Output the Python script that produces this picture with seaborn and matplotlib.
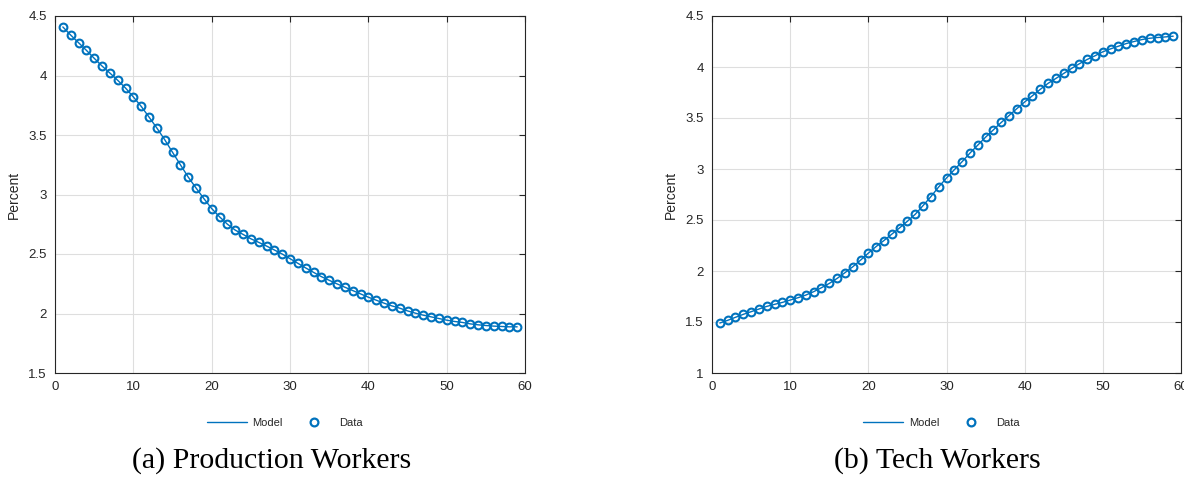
import numpy as np
import pandas as pd
import matplotlib
matplotlib.use("Agg")
import matplotlib.pyplot as plt
from matplotlib.ticker import FuncFormatter
from matplotlib.lines import Line2D
import seaborn as sns

# Periods on the horizontal axis
periods = list(range(1, 60))

# Employment share of production workers (percent)
production_share = [
    4.408, 4.340, 4.276, 4.212, 4.145, 4.080, 4.021, 3.960, 3.895, 3.820,
    3.741, 3.651, 3.559, 3.461, 3.355, 3.251, 3.147, 3.055, 2.966, 2.882,
    2.813, 2.751, 2.701, 2.665, 2.628, 2.598, 2.567, 2.534, 2.500, 2.461,
    2.422, 2.383, 2.346, 2.310, 2.279, 2.249, 2.221, 2.193, 2.165, 2.137,
    2.112, 2.087, 2.064, 2.045, 2.022, 2.003, 1.986, 1.972, 1.958, 1.944,
    1.933, 1.925, 1.913, 1.905, 1.899, 1.894, 1.891, 1.888, 1.888,
]

# Employment share of tech workers (percent)
tech_share = [
    1.490, 1.516, 1.546, 1.575, 1.601, 1.627, 1.653, 1.673, 1.692, 1.715,
    1.738, 1.764, 1.797, 1.836, 1.878, 1.927, 1.983, 2.041, 2.106, 2.175,
    2.240, 2.299, 2.361, 2.423, 2.488, 2.556, 2.641, 2.729, 2.824, 2.912,
    2.993, 3.072, 3.156, 3.234, 3.312, 3.384, 3.456, 3.524, 3.592, 3.657,
    3.719, 3.781, 3.840, 3.888, 3.937, 3.986, 4.032, 4.074, 4.110, 4.149,
    4.178, 4.204, 4.230, 4.250, 4.269, 4.282, 4.289, 4.295, 4.302,
]

x_ticks = [0, 10, 20, 30, 40, 50, 60]
prod_y_ticks = [1.5, 2.0, 2.5, 3.0, 3.5, 4.0, 4.5]
tech_y_ticks = [1.0, 1.5, 2.0, 2.5, 3.0, 3.5, 4.0, 4.5]
series_labels = ["Model", "Data"]
captions = ["(a) Production Workers", "(b) Tech Workers"]
y_label = "Percent"

sns.set_style("white")
plt.rcParams["font.family"] = ["Liberation Sans", "DejaVu Sans"]

BLUE = "#0072BD"
INK = "#262626"
GRID = "#dedede"

fig = plt.figure(figsize=(11.84, 4.8), dpi=100)
ax_a = fig.add_axes([55 / 1184, 107 / 480, 470 / 1184, 357 / 480])
ax_b = fig.add_axes([712 / 1184, 107 / 480, 469 / 1184, 357 / 480])

panels = [
    (ax_a, production_share, prod_y_ticks),
    (ax_b, tech_share, tech_y_ticks),
]

for ax, share, yticks in panels:
    df = pd.DataFrame({"period": periods, "share": share})
    # Model: solid line
    sns.lineplot(data=df, x="period", y="share", ax=ax, color=BLUE,
                 linewidth=1.0, zorder=3)
    # Data: hollow circles
    sns.lineplot(data=df, x="period", y="share", ax=ax, color=BLUE,
                 linestyle="none", marker="o", markersize=5.6,
                 markerfacecolor="none", markeredgecolor=BLUE,
                 markeredgewidth=1.5, zorder=4)

    ax.set_xlim(x_ticks[0], x_ticks[-1])
    ax.set_ylim(yticks[0], yticks[-1])
    ax.set_xticks(x_ticks)
    ax.set_yticks(yticks)
    ax.yaxis.set_major_formatter(FuncFormatter(lambda v, _: f"{v:g}"))
    ax.xaxis.set_major_formatter(FuncFormatter(lambda v, _: f"{v:g}"))
    ax.set_xlabel("")
    ax.set_ylabel(y_label, fontsize=10, color=INK, labelpad=5)

    ax.grid(True, color=GRID, linewidth=0.8)
    ax.set_axisbelow(True)
    for side in ["left", "right", "top", "bottom"]:
        ax.spines[side].set_visible(True)
        ax.spines[side].set_color(INK)
        ax.spines[side].set_linewidth(0.8)
    ax.tick_params(axis="both", which="major", direction="in", length=4,
                   width=0.8, color=INK, labelcolor=INK, labelsize=9.5,
                   top=True, right=True, pad=6)

    handles = [
        Line2D([], [], color=BLUE, linewidth=1.0),
        Line2D([], [], color=BLUE, linestyle="none", marker="o",
               markersize=5.6, markerfacecolor="none",
               markeredgecolor=BLUE, markeredgewidth=1.6),
    ]
    ax.legend(handles, series_labels, loc="center left",
              bbox_to_anchor=(0.323, -0.14), ncol=2, frameon=False,
              fontsize=8, handlelength=3.6, handletextpad=0.5,
              columnspacing=1.0, borderpad=0, borderaxespad=0,
              labelcolor=INK)

fig.text(272 / 1184, 12 / 480, captions[0], ha="center", va="baseline",
         fontsize=21.5, family=["Liberation Serif", "DejaVu Serif"], color="black")
fig.text(937 / 1184, 12 / 480, captions[1], ha="center", va="baseline",
         fontsize=21.5, family=["Liberation Serif", "DejaVu Serif"], color="black")

fig.savefig("out.png", dpi=100)
